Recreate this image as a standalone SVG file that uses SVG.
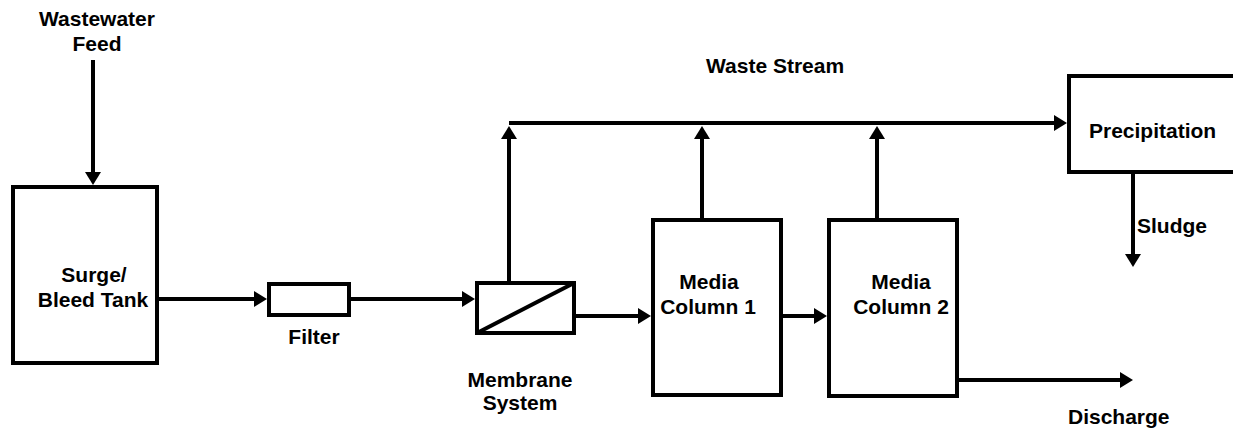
<svg xmlns="http://www.w3.org/2000/svg" width="1233" height="429" viewBox="0 0 1233 429">
  <style>
    .box { fill: #ffffff; stroke: #000000; stroke-width: 4; }
    .flow { fill: none; stroke: #000000; stroke-width: 4; }
    .lbl { font-family: "Liberation Sans", Arial, sans-serif; font-weight: bold; font-size: 21px; fill: #000000; }
    .mid { text-anchor: middle; }
  </style>
  <defs>
    <marker id="arrow" markerUnits="userSpaceOnUse" markerWidth="14" markerHeight="18" viewBox="0 -9 14 18" refX="0" refY="0" orient="auto">
      <path d="M0,-8 L13,0 L0,8 Z" fill="#000000"/>
    </marker>
  </defs>
  <rect width="1233" height="429" fill="#ffffff"/>

  <!-- process streams -->
  <g id="connectors">
    <line class="flow" x1="93" y1="60" x2="93" y2="172" marker-end="url(#arrow)"/>
    <line class="flow" x1="157" y1="299" x2="254" y2="299" marker-end="url(#arrow)"/>
    <line class="flow" x1="349" y1="299" x2="462" y2="299" marker-end="url(#arrow)"/>
    <line class="flow" x1="509" y1="281" x2="509" y2="139" marker-end="url(#arrow)"/>
    <line class="flow" x1="509" y1="123" x2="1054" y2="123" marker-end="url(#arrow)"/>
    <line class="flow" x1="574" y1="316" x2="638" y2="316" marker-end="url(#arrow)"/>
    <line class="flow" x1="702" y1="218" x2="702" y2="139" marker-end="url(#arrow)"/>
    <line class="flow" x1="781" y1="316" x2="814" y2="316" marker-end="url(#arrow)"/>
    <line class="flow" x1="877" y1="218" x2="877" y2="139" marker-end="url(#arrow)"/>
    <line class="flow" x1="1133" y1="172" x2="1133" y2="254" marker-end="url(#arrow)"/>
    <line class="flow" x1="957" y1="380" x2="1120" y2="380" marker-end="url(#arrow)"/>
  </g>

  <!-- stream labels -->
  <g id="feed-label">
    <text class="lbl mid" x="97" y="26">Wastewater</text>
    <text class="lbl mid" x="97" y="51">Feed</text>
  </g>
  <g id="waste-stream-label">
    <text class="lbl" x="706" y="73">Waste Stream</text>
  </g>
  <g id="sludge-label">
    <text class="lbl" x="1137" y="233">Sludge</text>
  </g>
  <g id="discharge-label">
    <text class="lbl" x="1068" y="424">Discharge</text>
  </g>

  <!-- units -->
  <g id="surge-tank">
    <rect class="box" x="13" y="187" width="144" height="176"/>
    <text class="lbl mid" x="94" y="282">Surge/</text>
    <text class="lbl mid" x="93" y="307">Bleed Tank</text>
  </g>
  <g id="filter">
    <rect class="box" x="269" y="284" width="80" height="31"/>
    <text class="lbl mid" x="314" y="344">Filter</text>
  </g>
  <g id="membrane">
    <rect class="box" x="477" y="283" width="97" height="50"/>
    <line class="flow" x1="477" y1="333" x2="574" y2="283"/>
    <text class="lbl mid" x="520" y="387">Membrane</text>
    <text class="lbl mid" x="520" y="410">System</text>
  </g>
  <g id="media-column-1">
    <rect class="box" x="653" y="220" width="128" height="175"/>
    <text class="lbl mid" x="709" y="289">Media</text>
    <text class="lbl mid" x="708" y="314">Column 1</text>
  </g>
  <g id="media-column-2">
    <rect class="box" x="829" y="220" width="128" height="176"/>
    <text class="lbl mid" x="901" y="289">Media</text>
    <text class="lbl mid" x="901" y="314">Column 2</text>
  </g>
  <g id="precipitation">
    <rect class="box" x="1069" y="76" width="175" height="96"/>
    <text class="lbl" x="1089" y="138">Precipitation</text>
  </g>
</svg>
